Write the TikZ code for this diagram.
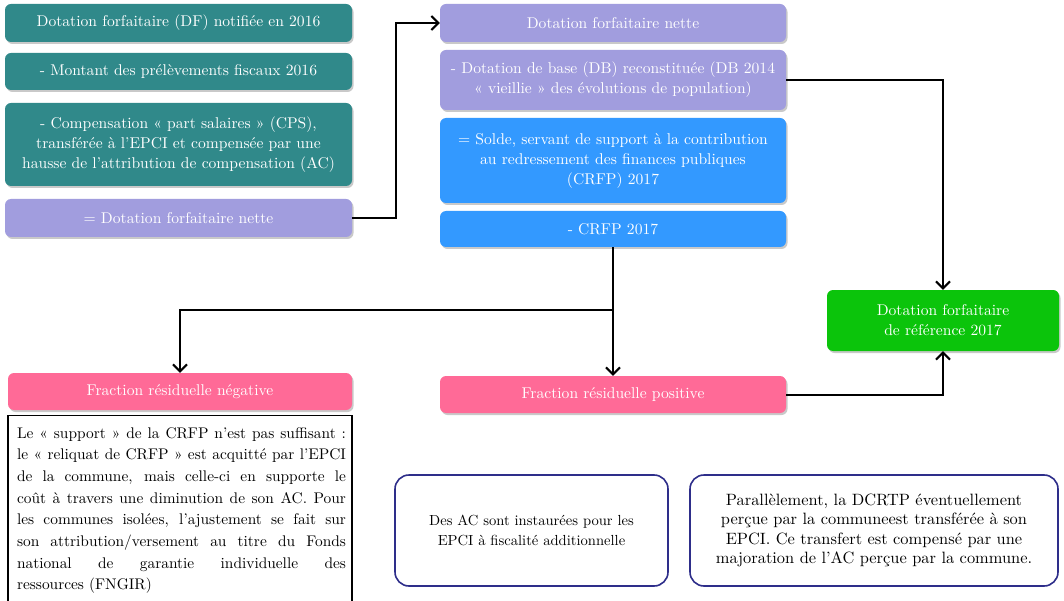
\documentclass[tikz,border=0pt]{standalone}
\usepackage{fontspec}
\setmainfont{lmroman10-regular.otf}[BoldFont=lmroman10-bold.otf, ItalicFont=lmroman10-italic.otf]
\usetikzlibrary{arrows.meta,shadows}
\definecolor{tealbox}{HTML}{30898A}
\definecolor{lavbox}{HTML}{A19DDE}
\definecolor{bluebox}{HTML}{3399FF}
\definecolor{greenbox}{HTML}{0BC40B}
\definecolor{pinkbox}{HTML}{FF6A97}
\definecolor{navyline}{HTML}{2E2E8A}
\tikzset{
  box/.style={rectangle, rounded corners=6pt, text=white, align=center,
    font=\fontsize{15.6}{20}\selectfont, inner sep=2pt,
    drop shadow={shadow xshift=1.5pt, shadow yshift=-2pt, opacity=0.35, fill=black!60}},
  tealb/.style={box, fill=tealbox},
  lavb/.style={box, fill=lavbox},
  blueb/.style={box, fill=bluebox},
  greenb/.style={box, fill=greenbox},
  pinkb/.style={box, fill=pinkbox},
  notebox/.style={rectangle, rounded corners=14pt, draw=navyline, line width=1.6pt,
    align=center, inner sep=4pt},
  conn/.style={draw=black, line width=2pt, -{Straight Barb[length=7pt,width=14pt,line width=2pt]}},
  link/.style={draw=black, line width=2pt}
}
\begin{document}
\hyphenpenalty=10000 \exhyphenpenalty=10000
\begin{tikzpicture}[x=1pt,y=-1pt]
\useasboundingbox (0,0) rectangle (1064,601);
\fill[white] (0,0) rectangle (1064,601);

% left column
\node[tealb, minimum width=347pt, minimum height=38pt] (a1) at (178.5,23) {Dotation forfaitaire (DF) notifiée en 2016};
\node[tealb, minimum width=347pt, minimum height=37pt] (a2) at (178.5,71.5) {- Montant des prélèvements fiscaux 2016};
\node[tealb, minimum width=347pt, minimum height=83pt] (a3) at (178.5,144.5) {- Compensation «~part salaires~» (CPS),\\ transférée à l'EPCI et compensée par une\\ hausse de l'attribution de compensation (AC)};
\node[lavb, minimum width=347pt, minimum height=38pt] (a4) at (178.5,218) {= Dotation forfaitaire nette};

% middle column
\node[lavb, minimum width=346pt, minimum height=38pt] (b1) at (613,23) {Dotation forfaitaire nette};
\node[lavb, minimum width=346pt, minimum height=60pt] (b2) at (613,80) {- Dotation de base (DB) reconstituée (DB 2014\\ «~vieillie~» des évolutions de population)};
\node[blueb, minimum width=346pt, minimum height=85pt] (b3) at (613,160.5) {= Solde, servant de support à la contribution\\ au redressement des finances publiques\\ (CRFP) 2017};
\node[blueb, minimum width=346pt, minimum height=36pt] (b4) at (613,229) {- CRFP 2017};

% results
\node[greenb, minimum width=232pt, minimum height=61pt] (g) at (943,320.5) {Dotation forfaitaire\\ de référence 2017};
\node[pinkb, minimum width=344pt, minimum height=37pt] (fn) at (180,391.5) {Fraction résiduelle négative};
\node[pinkb, minimum width=346pt, minimum height=37pt] (fp) at (613,394.5) {Fraction résiduelle positive};

% explanatory notes
\node[draw=black, line width=1.2pt, rectangle, minimum width=344pt, minimum height=200pt,
      anchor=north, inner sep=0pt] (nbox) at (180,415) {};
\node[anchor=north, text width=329pt, align=justify, inner sep=0pt,
      font=\fontsize{15.4}{21.7}\selectfont] (ntext) at (181.5,427)
  {Le «~support~» de la CRFP n'est pas suffisant :\linebreak
   le «~reliquat de CRFP~» est acquitté par l'EPCI\linebreak
   de la commune, mais celle-ci en supporte le\linebreak
   coût à travers une diminution de son AC. Pour\linebreak
   les communes isolées, l'ajustement se fait sur\linebreak
   son attribution/versement au titre du Fonds\linebreak
   national de garantie individuelle des\linebreak
   ressources (FNGIR)};
\node[notebox, minimum width=273pt, minimum height=111pt, font=\fontsize{14.6}{19.5}\selectfont] (nac) at (531.5,530.5) {Des AC sont instaurées pour les\\ EPCI à fiscalité additionnelle};
\node[notebox, minimum width=368pt, minimum height=111pt, font=\fontsize{16.4}{19.5}\selectfont] (npar) at (874,530.5) {Parallèlement, la DCRTP éventuellement\\ perçue par la communeest transférée à son\\ EPCI. Ce transfert est compensé par une\\ majoration de l'AC perçue par la commune.};

% connectors
\draw[conn] (a4.east) -- ++(44,0) |- (b1.west);
\draw[conn] (b2.east) -| (g.north);
\draw[conn] (fp.east) -| (g.south);
\path (b4.south) ++(0,63) coordinate (split);
\draw[link] (b4.south) -- (split);
\draw[conn] (split) -- (fp.north);
\draw[conn] (split) -| (fn.north);
\end{tikzpicture}
\end{document}
